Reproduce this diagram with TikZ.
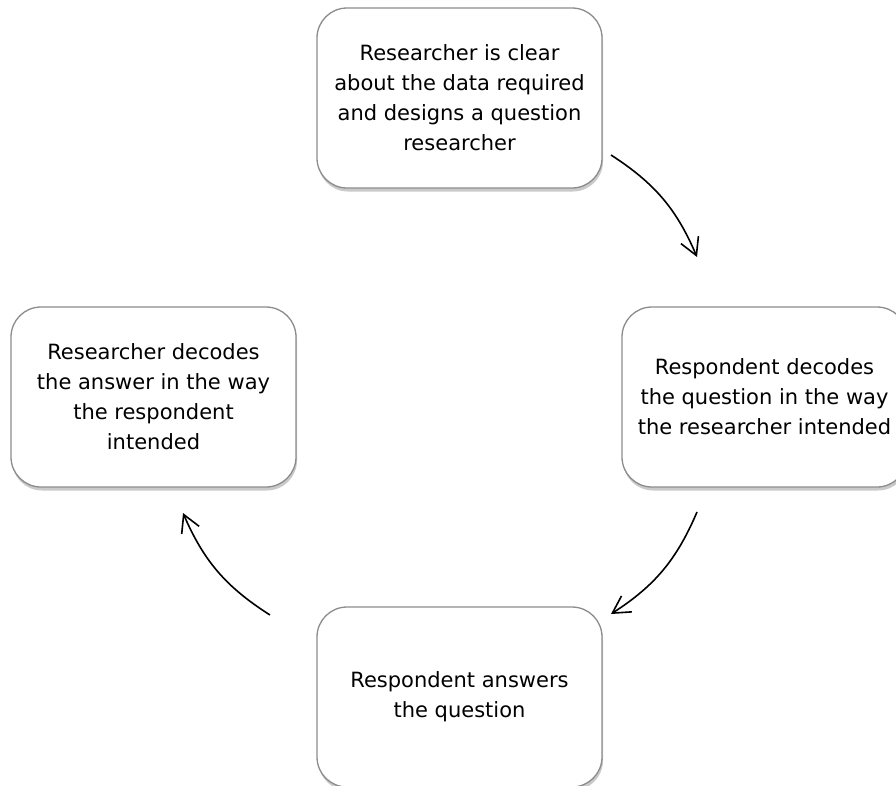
\documentclass[tikz,border=0pt]{standalone}
\usepackage{fontspec}
\setmainfont{DejaVu Sans}
\usetikzlibrary{arrows.meta,shadows}
\begin{document}
\begin{tikzpicture}[x=1pt,y=1pt,
  box/.style={draw=black!45,line width=1.3pt,fill=white,rounded corners=30pt,
    minimum width=285pt,minimum height=180pt,inner sep=0pt,align=center,
    font=\fontsize{21}{30}\selectfont,
    drop shadow={shadow xshift=1pt,shadow yshift=-3.5pt,opacity=0.35,fill=black!60}},
  flow/.style={line width=1.6pt,-{Straight Barb[length=17pt,width=19pt,line width=1.6pt]}}]
\useasboundingbox (0,0) rectangle (896,-785);
\node[box] (top) at (459.5,-98) {Researcher is clear\\about the data required\\and designs a question\\researcher};
\node[box] (left) at (153.5,-397) {Researcher decodes\\the answer in the way\\the respondent\\intended};
\node[box] (right) at (764.5,-397) {Respondent decodes\\the question in the way\\the researcher intended};
\node[box] (bottom) at (459.5,-697) {Respondent answers\\the question};
\coordinate (a1s) at (611,-155);
\coordinate (a1e) at (697,-257);
\coordinate (a2s) at (697,-512);
\coordinate (a2e) at (611,-614);
\coordinate (a3s) at (270,-615);
\coordinate (a3e) at (183,-513);
\draw[flow] (a1s) to[bend left=17] (a1e);
\draw[flow] (a2s) to[bend left=17] (a2e);
\draw[flow] (a3s) to[bend left=17] (a3e);
\end{tikzpicture}
\end{document}
